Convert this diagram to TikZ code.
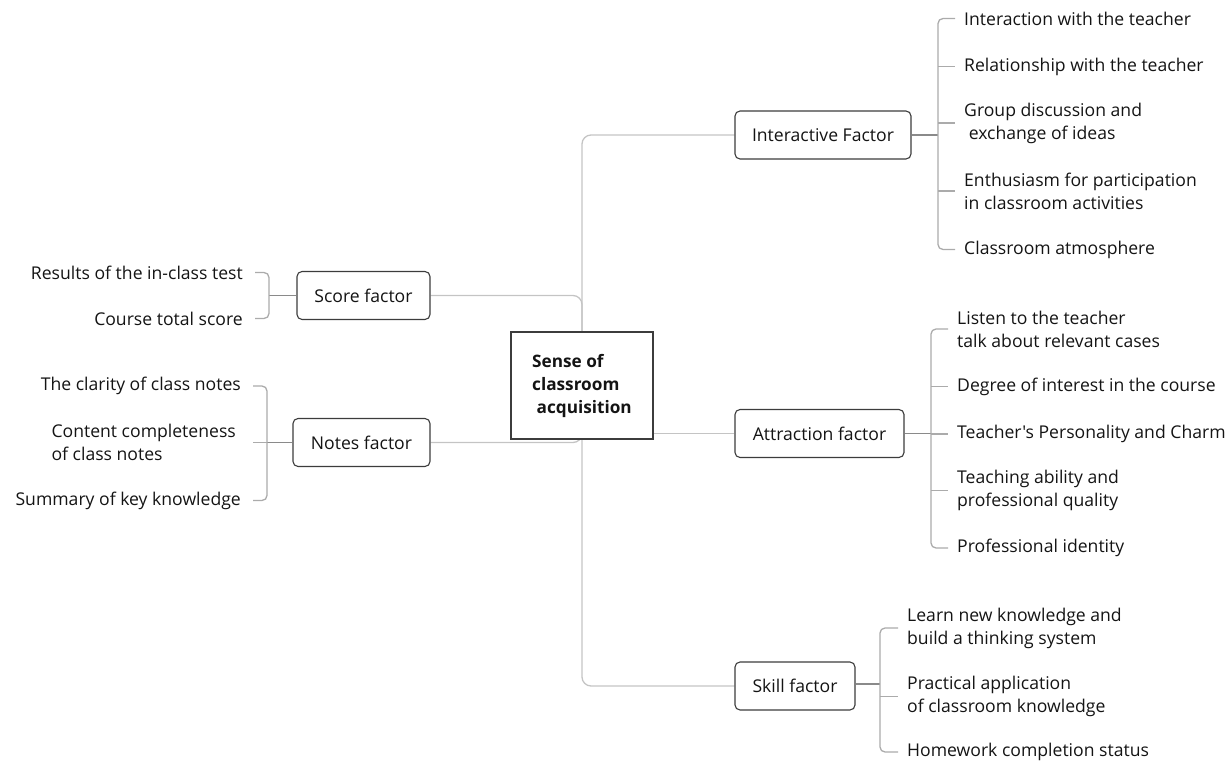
\documentclass[tikz,border=0pt]{standalone}
\usepackage{fontspec}
\setmainfont{Open Sans}[Ligatures=TeXOff]
\usetikzlibrary{backgrounds}
\definecolor{trunkgray}{HTML}{C4C4C4}
\definecolor{brkgray}{HTML}{ABABAB}
\definecolor{linkgray}{HTML}{8A8A8A}
\definecolor{boxline}{HTML}{3C3C3C}
\tikzset{
  factor/.style={draw=boxline,line width=1.1pt,rounded corners=5pt,fill=white,
    minimum height=48pt,inner xsep=10pt,font=\fontsize{17.6}{23}\selectfont},
  leaf/.style={inner sep=0pt,align=left,font=\fontsize{17.6}{23}\selectfont},
  trk/.style={trunkgray,line width=1.3pt,rounded corners=9pt},
  brk/.style={brkgray,line width=1.3pt,rounded corners=5pt},
  lnk/.style={linkgray,line width=1.4pt},
}

\begin{document}
\begin{tikzpicture}[x=1pt,y=-1pt,text=black!92]
    \useasboundingbox (0,0) rectangle (1227,762);

    % root and factors
    \node[draw=boxline,line width=1.1pt,fill=white,minimum width=142pt,minimum height=107pt,
      align=left,font=\fontsize{17.2}{23}\selectfont\bfseries] (root) at (582,385.5)
      {Sense of\\classroom\\\ acquisition};
    \node[factor,minimum width=176pt] (inter) at (823,135) {Interactive Factor};
    \node[factor,minimum width=169pt] (attr) at (819.5,433.5) {Attraction factor};
    \node[factor,minimum width=120pt] (skill) at (795,686) {Skill factor};
    \node[factor,minimum width=133pt] (score) at (363.5,295.5) {Score factor};
    \node[factor,minimum width=137pt] (notes) at (361.5,442.5) {Notes factor};

    % interactive leaves
    \node[leaf,anchor=west] (i1) at (964,18.5) {Interaction with the teacher};
    \node[leaf,anchor=west] (i2) at (964,66.5) {Relationship with the teacher};
    \node[leaf,anchor=west] (i3) at (964,123) {Group discussion and\\\ exchange of ideas};
    \node[leaf,anchor=west] (i4) at (964,191) {Enthusiasm for participation\\in classroom activities};
    \node[leaf,anchor=west] (i5) at (964,249.5) {Classroom atmosphere};
    \coordinate (ib) at (938,135);

    % attraction leaves
    \node[leaf,anchor=west] (a1) at (957,329) {Listen to the teacher\\talk about relevant cases};
    \node[leaf,anchor=west] (a2) at (957,386.5) {Degree of interest in the course};
    \node[leaf,anchor=west] (a3) at (957,434) {Teacher's Personality and Charm};
    \node[leaf,anchor=west] (a4) at (957,490.5) {Teaching ability and\\professional quality};
    \node[leaf,anchor=west] (a5) at (957,548) {Professional identity};
    \coordinate (ab) at (931,433.5);

    % skill leaves
    \node[leaf,anchor=west] (k1) at (907,628) {Learn new knowledge and\\build a thinking system};
    \node[leaf,anchor=west] (k2) at (907,696.5) {Practical application\\of classroom knowledge};
    \node[leaf,anchor=west] (k3) at (907,752) {Homework completion status};
    \coordinate (kb) at (880,684);

    % score leaves
    \node[leaf,anchor=east] (s1) at (243,272.5) {Results of the in-class test};
    \node[leaf,anchor=east] (s2) at (243,318.5) {Course total score};
    \coordinate (sb) at (269,295.5);

    % notes leaves
    \node[leaf,anchor=east] (n1) at (241,386) {The clarity of class notes};
    \node[leaf,anchor=east] (n2) at (236,442.5) {Content completeness\\of class notes};
    \node[leaf,anchor=east] (n3) at (241,500.5) {Summary of key knowledge};
    \coordinate (nb) at (267,442.5);

    \begin{scope}[on background layer]
      % trunk
      \draw[trk] (root.center) |- (inter.west);
      \draw[trk] (root.center) |- (skill.west);
      \draw[trk] (root.center -| root.east) ++(0,48) -- (attr.west);
      \draw[trk] (score.east) -| (root.center);
      \draw[trk] (notes.east) -| (root.center);

      % brackets right
      \draw[lnk] (inter.east) -- (ib);
      \draw[brk] ([xshift=-9pt]i1.west) -| (ib) |- ([xshift=-9pt]i5.west);
      \foreach \l in {i2,i3,i4} \draw[brk] (ib |- \l.west) -- ([xshift=-9pt]\l.west);

      \draw[lnk] (attr.east) -- (ab);
      \draw[brk] ([xshift=-9pt]a1.west) -| (ab) |- ([xshift=-9pt]a5.west);
      \foreach \l in {a2,a3,a4} \draw[brk] (ab |- \l.west) -- ([xshift=-9pt]\l.west);

      \draw[lnk] (skill.east |- kb) -- (kb);
      \draw[brk] ([xshift=-9pt]k1.west) -| (kb) |- ([xshift=-9pt]k3.west);
      \draw[brk] (kb |- k2.west) -- ([xshift=-9pt]k2.west);

      % brackets left
      \draw[lnk] (sb) -- (score.west);
      \draw[brk] ([xshift=12pt]s1.east) -| (sb) |- ([xshift=12pt]s2.east);

      \draw[lnk] (nb) -- (notes.west);
      \draw[brk] ([xshift=12pt]n1.east) -| (nb) |- ([xshift=12pt]n3.east);
      \draw[brk] ([xshift=-14pt]nb) -- (nb);
    \end{scope}
  \end{tikzpicture}
\end{document}
